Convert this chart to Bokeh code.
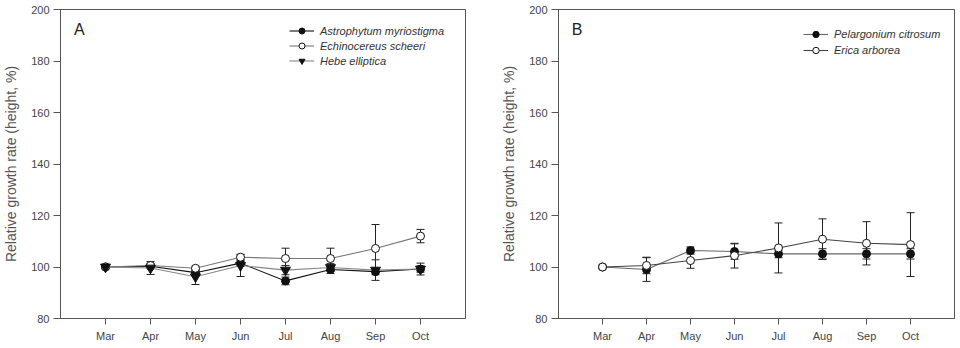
from bokeh.plotting import figure
from bokeh.layouts import row
from bokeh.models import (Range1d, FixedTicker, Whisker, TeeHead, ColumnDataSource,
                          Legend, LegendItem, Label)
from bokeh.embed import file_html
from bokeh.resources import INLINE

months = ["Mar", "Apr", "May", "Jun", "Jul", "Aug", "Sep", "Oct"]
month_pos = [1, 2, 3, 4, 5, 6, 7, 8]
y_ticks = [80, 100, 120, 140, 160, 180, 200]

# Panel A
astro_vals = [100, 100.3, 97.8, 101.5, 94.6, 99.0, 98.2, 99.2]
astro_err = [0.5, 0.8, 1.2, 1.2, 1.5, 1.5, 1.2, 1.2]
echino_vals = [100, 100.6, 99.5, 103.8, 103.3, 103.3, 107.2, 112.0]
echino_err = [0.5, 0.6, 0.8, 1.0, 4.0, 4.0, 9.3, 2.6]
hebe_vals = [100, 99.6, 96.2, 100.6, 98.8, 99.8, 98.8, 99.2]
hebe_err = [0.5, 2.5, 3.0, 4.3, 1.8, 1.5, 4.0, 2.3]

# Panel B
pelar_vals = [100, 99.0, 106.4, 106.0, 105.1, 105.1, 105.1, 105.1]
pelar_err = [0.3, 4.6, 1.4, 3.0, 1.5, 2.0, 2.0, 2.0]
erica_vals = [100, 100.6, 102.5, 104.4, 107.4, 110.8, 109.2, 108.7]
erica_err = [0.3, 3.2, 3.0, 4.8, 9.7, 7.9, 8.4, 12.4]

FONT = "Liberation Sans"


def make_panel(letter, series, borders, legend_loc, row_h):
    left, right, top, bottom = borders
    p = figure(width=480, height=348, output_backend="svg", toolbar_location=None,
               x_range=Range1d(0, 9), y_range=Range1d(80, 200),
               min_border_left=left, min_border_right=right,
               min_border_top=top, min_border_bottom=bottom)
    p.background_fill_color = "white"
    p.border_fill_color = "white"
    p.outline_line_color = "#555555"
    p.xgrid.visible = False
    p.ygrid.visible = False

    p.xaxis.ticker = FixedTicker(ticks=month_pos)
    p.xaxis.major_label_overrides = {m: lab for m, lab in zip(month_pos, months)}
    p.yaxis.ticker = FixedTicker(ticks=y_ticks)
    for ax in (p.xaxis, p.yaxis):
        ax.axis_line_color = "#555555"
        ax.major_tick_line_color = "#555555"
        ax.minor_tick_line_color = None
        ax.major_tick_in = 0
        ax.major_label_text_font = FONT
        ax.major_label_text_font_size = "11px"
        ax.major_label_text_color = "#444444"
    p.xaxis.major_tick_out = 6
    p.xaxis.major_label_standoff = 5
    p.yaxis.major_tick_out = 7
    p.yaxis.major_label_standoff = 4
    p.yaxis.axis_label = "Relative growth rate (height, %)"
    p.yaxis.axis_label_text_font = FONT
    p.yaxis.axis_label_text_font_size = "14px"
    p.yaxis.axis_label_text_font_style = "normal"
    p.yaxis.axis_label_text_color = "#555555"
    p.yaxis.axis_label_standoff = 9

    items = []
    for s in series:
        vals, errs = s["vals"], s["errs"]
        src = ColumnDataSource(dict(
            x=month_pos, y=vals,
            upper=[v + e for v, e in zip(vals, errs)],
            lower=[v - e for v, e in zip(vals, errs)]))
        w = Whisker(source=src, base="x", upper="upper", lower="lower",
                    level="underlay", line_color="#222222", line_width=1,
                    upper_head=TeeHead(size=8, line_color="#222222", line_width=1),
                    lower_head=TeeHead(size=8, line_color="#222222", line_width=1))
        p.add_layout(w)
        lr = p.line("x", "y", source=src, line_color=s["line"], line_width=1.1)
        sr = p.scatter("x", "y", source=src, marker=s["marker"], size=s["size"],
                       fill_color=s["fill"], line_color="#111111", line_width=1)
        items.append(LegendItem(label=s["name"], renderers=[lr, sr]))

    leg = Legend(items=items, location=legend_loc, glyph_width=25, glyph_height=row_h,
                 label_height=row_h, spacing=0, padding=0, margin=0,
                 border_line_color=None, background_fill_alpha=0,
                 label_text_font=FONT, label_text_font_style="italic",
                 label_text_font_size="11px", label_text_color="#333333",
                 label_standoff=6)
    p.add_layout(leg)

    p.add_layout(Label(x=0.3, y=195.6, text=letter, text_font=FONT,
                       text_font_size="16px", text_color="#222222",
                       text_baseline="top", text_align="left"))
    return p


series_a = [
    dict(name="Astrophytum myriostigma", vals=astro_vals, errs=astro_err,
         marker="circle", size=8, fill="#111111", line="#111111"),
    dict(name="Echinocereus scheeri", vals=echino_vals, errs=echino_err,
         marker="circle", size=8, fill="white", line="#777777"),
    dict(name="Hebe elliptica", vals=hebe_vals, errs=hebe_err,
         marker="inverted_triangle", size=10, fill="#111111", line="#888888"),
]
series_b = [
    dict(name="Pelargonium citrosum", vals=pelar_vals, errs=pelar_err,
         marker="circle", size=8, fill="#111111", line="#666666"),
    dict(name="Erica arborea", vals=erica_vals, errs=erica_err,
         marker="circle", size=8, fill="white", line="#444444"),
]

pa = make_panel("A", series_a, (59, 15, 9, 28), (229, 250), 15)
pb = make_panel("B", series_b, (78, 6, 9, 30), (245, 260), 16)

layout = row(pa, pb)
open("out.html", "w").write(file_html(layout, INLINE))
